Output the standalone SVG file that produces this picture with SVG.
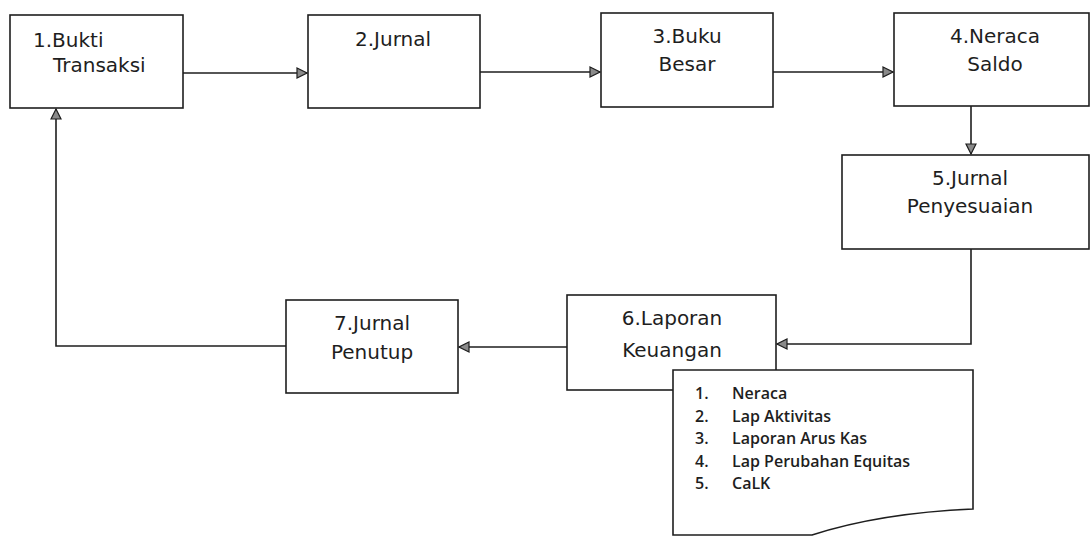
<svg xmlns="http://www.w3.org/2000/svg" width="1091" height="537" viewBox="0 0 1091 537">
<style>
.box{fill:#fff;stroke:#1e1e1e;stroke-width:1.6}
.lbl{font-family:"DejaVu Sans",Verdana,sans-serif;font-size:20px;fill:#1e1e1e}
.mid{text-anchor:middle}
.conn{fill:none;stroke:#1e1e1e;stroke-width:1.6}
.doc{font-family:"Open Sans","Noto Sans",sans-serif;font-size:16px;font-weight:600;fill:#1e1e1e}
</style>
<defs>
<marker id="ah" viewBox="0 0 12 12" refX="11" refY="6" markerWidth="12" markerHeight="12" markerUnits="userSpaceOnUse" orient="auto">
<path d="M1,1 L11,6 L1,11 Z" fill="#8a8a8a" stroke="#1e1e1e" stroke-width="1.2"/>
</marker>
</defs>
<rect width="1091" height="537" fill="#fff"/>
<g id="connectors">
<path class="conn" d="M183,73 H307" marker-end="url(#ah)"/>
<path class="conn" d="M480,72 H600" marker-end="url(#ah)"/>
<path class="conn" d="M773,72 H893" marker-end="url(#ah)"/>
<path class="conn" d="M971,106 V154" marker-end="url(#ah)"/>
<path class="conn" d="M971,249 V344 H777" marker-end="url(#ah)"/>
<path class="conn" d="M567,347 H459" marker-end="url(#ah)"/>
<path class="conn" d="M286,346 H56 V109" marker-end="url(#ah)"/>
</g>
<g id="node1">
<rect class="box" x="10" y="15" width="173" height="93"/>
<text class="lbl" x="33" y="47">1.Bukti</text>
<text class="lbl" x="53" y="72">Transaksi</text>
</g>
<g id="node2">
<rect class="box" x="308" y="15" width="172" height="93"/>
<text class="lbl mid" x="393" y="46">2.Jurnal</text>
</g>
<g id="node3">
<rect class="box" x="601" y="13" width="172" height="94"/>
<text class="lbl mid" x="687" y="43">3.Buku</text>
<text class="lbl mid" x="687" y="71">Besar</text>
</g>
<g id="node4">
<rect class="box" x="894" y="13" width="195" height="93"/>
<text class="lbl mid" x="995" y="43">4.Neraca</text>
<text class="lbl mid" x="995" y="71">Saldo</text>
</g>
<g id="node5">
<rect class="box" x="842" y="155" width="247" height="94"/>
<text class="lbl mid" x="970" y="185">5.Jurnal</text>
<text class="lbl mid" x="970" y="213">Penyesuaian</text>
</g>
<g id="node6">
<rect class="box" x="567" y="295" width="209" height="95"/>
<text class="lbl mid" x="672" y="325">6.Laporan</text>
<text class="lbl mid" x="672" y="357">Keuangan</text>
</g>
<g id="node7">
<rect class="box" x="286" y="300" width="172" height="93"/>
<text class="lbl mid" x="372" y="330">7.Jurnal</text>
<text class="lbl mid" x="372" y="359">Penutup</text>
</g>
<g id="doc">
<path class="box" d="M673,370 H973 V509 Q880,513 812,535 H673 Z"/>
<text class="doc" x="695" y="399">1.</text><text class="doc" x="732" y="399">Neraca</text>
<text class="doc" x="695" y="421.5">2.</text><text class="doc" x="732" y="421.5">Lap Aktivitas</text>
<text class="doc" x="695" y="444">3.</text><text class="doc" x="732" y="444">Laporan Arus Kas</text>
<text class="doc" x="695" y="466.5">4.</text><text class="doc" x="732" y="466.5">Lap Perubahan Equitas</text>
<text class="doc" x="695" y="489">5.</text><text class="doc" x="732" y="489">CaLK</text>
</g>
</svg>
